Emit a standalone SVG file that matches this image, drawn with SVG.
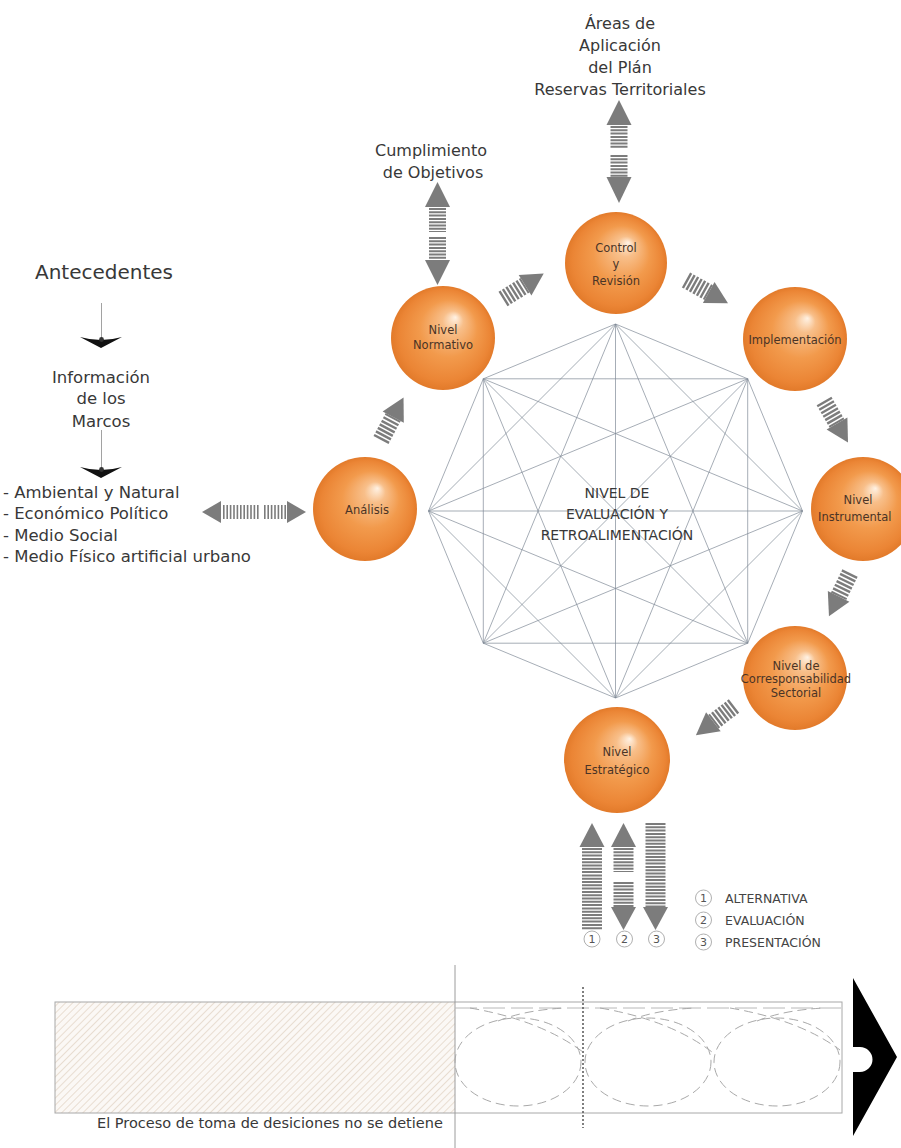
<svg xmlns="http://www.w3.org/2000/svg" xmlns:xlink="http://www.w3.org/1999/xlink" width="901" height="1148" viewBox="0 0 901 1148">
<style>
.t{font-family:"DejaVu Sans","Liberation Sans",sans-serif;fill:#383838}
.lab{font-size:16.5px}
.node{font-size:11.5px;fill:#4a3426;text-anchor:middle}
.oct{stroke:#7f8996;stroke-width:0.7;fill:none}
.ar{fill:#7c7c7c}
.st{stroke:#7c7c7c;fill:none}
.dsh{stroke:#a9a9a9;stroke-width:1;fill:none;stroke-dasharray:9 5}
.num{font-size:11px;fill:#555;text-anchor:middle}
.cn{fill:none;stroke:#9a9a9a;stroke-width:0.8}
.leg{font-size:12.5px;fill:#444}
</style>
<defs>
<radialGradient id="sph" cx="0.5" cy="0.5" r="0.5" fx="0.62" fy="0.3">
<stop offset="0" stop-color="#fff2e4"/>
<stop offset="0.2" stop-color="#f8bf8a"/>
<stop offset="0.55" stop-color="#f29a4c"/>
<stop offset="0.88" stop-color="#eb8535"/>
<stop offset="1" stop-color="#e27a2a"/>
</radialGradient>
<pattern id="hatch" width="5" height="5" patternUnits="userSpaceOnUse" patternTransform="rotate(45)">
<rect width="5" height="5" fill="#fbf8f5"/>
<line x1="0" y1="0" x2="0" y2="5" stroke="#e4d6c8" stroke-width="1.6"/>
</pattern>
<g id="sa">
<line x1="0" y1="0" x2="26" y2="0" class="st" stroke-width="17" stroke-dasharray="2.4 1.6"/>
<polygon points="26,-12 48,0 26,12" class="ar"/>
</g>
</defs>
<rect width="901" height="1148" fill="#ffffff"/>

<g id="octagon" class="oct">
<path d="M615.5,324L747.7,378.8M615.5,324L802.5,511M615.5,324L747.7,643.2M615.5,324L615.5,698M615.5,324L483.3,643.2M615.5,324L428.5,511M615.5,324L483.3,378.8
M747.7,378.8L802.5,511M747.7,378.8L747.7,643.2M747.7,378.8L615.5,698M747.7,378.8L483.3,643.2M747.7,378.8L428.5,511M747.7,378.8L483.3,378.8
M802.5,511L747.7,643.2M802.5,511L615.5,698M802.5,511L483.3,643.2M802.5,511L428.5,511M802.5,511L483.3,378.8
M747.7,643.2L615.5,698M747.7,643.2L483.3,643.2M747.7,643.2L428.5,511M747.7,643.2L483.3,378.8
M615.5,698L483.3,643.2M615.5,698L428.5,511M615.5,698L483.3,378.8
M483.3,643.2L428.5,511M483.3,643.2L483.3,378.8
M428.5,511L483.3,378.8"/>
</g>
<g id="center-label" class="t" font-size="14" text-anchor="middle">
<text x="617" y="498">NIVEL DE</text>
<text x="617" y="519">EVALUACIÓN Y</text>
<text x="617" y="540">RETROALIMENTACIÓN</text>
</g>

<g id="connectors">
<!-- top double arrow (Control) -->
<polygon class="ar" points="619,100 606.5,125 631.5,125"/>
<line class="st" x1="619" y1="126" x2="619" y2="148" stroke-width="17" stroke-dasharray="2 1.3"/>
<line class="st" x1="619" y1="155" x2="619" y2="177" stroke-width="17" stroke-dasharray="2 1.3"/>
<polygon class="ar" points="606.5,177 631.5,177 619,203"/>
<!-- Cumplimiento double arrow -->
<polygon class="ar" points="437.5,182 425,207 450,207"/>
<line class="st" x1="437.5" y1="208" x2="437.5" y2="232" stroke-width="17" stroke-dasharray="2 1.3"/>
<line class="st" x1="437.5" y1="237" x2="437.5" y2="260" stroke-width="17" stroke-dasharray="2 1.3"/>
<polygon class="ar" points="425,260 450,260 437.5,285"/>
<!-- left horizontal double arrow -->
<polygon class="ar" points="202,512 221,501 221,523"/>
<line class="st" x1="223" y1="512" x2="259" y2="512" stroke-width="14" stroke-dasharray="1.6 1.8"/>
<line class="st" x1="264" y1="512" x2="287" y2="512" stroke-width="14" stroke-dasharray="1.6 1.8"/>
<polygon class="ar" points="287,501 306,512 287,523"/>
<!-- cycle arrows -->
<use xlink:href="#sa" transform="translate(381,440) rotate(-62)"/>
<use xlink:href="#sa" transform="translate(503,299) rotate(-32)"/>
<use xlink:href="#sa" transform="translate(686,280) rotate(29)"/>
<use xlink:href="#sa" transform="translate(824,401) rotate(60)"/>
<use xlink:href="#sa" transform="translate(850,573) rotate(116)"/>
<use xlink:href="#sa" transform="translate(734,706) rotate(142.5)"/>
<!-- bottom arrows -->
<polygon class="ar" points="592,823 579.5,847 604.5,847"/>
<line class="st" x1="592" y1="848" x2="592" y2="930" stroke-width="20" stroke-dasharray="2 1.3"/>
<polygon class="ar" points="623.5,823 611,847 636,847"/>
<line class="st" x1="623.5" y1="848" x2="623.5" y2="872" stroke-width="20" stroke-dasharray="2 1.3"/>
<line class="st" x1="623.5" y1="882" x2="623.5" y2="907" stroke-width="20" stroke-dasharray="2 1.3"/>
<polygon class="ar" points="611,907 636,907 623.5,930"/>
<line class="st" x1="655.5" y1="823" x2="655.5" y2="907" stroke-width="20" stroke-dasharray="2 1.3"/>
<polygon class="ar" points="643,907 668,907 655.5,930"/>
<!-- left flow lines -->
<line x1="101.5" y1="303" x2="101.5" y2="340" stroke="#8a8a8a" stroke-width="0.8"/>
<path d="M80,337 Q101,343 122,337 L101,348 Z" fill="#111"/>
<circle cx="101.5" cy="339.5" r="2.4" fill="#333"/>
<line x1="101.5" y1="430" x2="101.5" y2="469" stroke="#8a8a8a" stroke-width="0.8"/>
<path d="M80,467 Q101,473 122,467 L101,478 Z" fill="#111"/>
<circle cx="101.5" cy="469.5" r="2.4" fill="#333"/>
</g>

<g id="label-areas" class="t lab" font-size="16" text-anchor="middle">
<text x="620" y="29" font-size="16">Áreas de</text>
<text x="620" y="51" font-size="16">Aplicación</text>
<text x="620" y="73" font-size="16">del Plán</text>
<text x="620" y="95" font-size="16">Reservas Territoriales</text>
</g>
<g id="label-cumplimiento" class="t" font-size="16" text-anchor="middle">
<text x="431" y="156">Cumplimiento</text>
<text x="433" y="178">de Objetivos</text>
</g>
<g id="label-antecedentes" class="t">
<text x="104" y="279" font-size="20" text-anchor="middle">Antecedentes</text>
</g>
<g id="label-informacion" class="t lab" text-anchor="middle">
<text x="101" y="383">Información</text>
<text x="101" y="404">de los</text>
<text x="101" y="427">Marcos</text>
</g>
<g id="label-marcos" class="t lab">
<text x="3" y="498">- Ambiental y Natural</text>
<text x="3" y="519">- Económico Político</text>
<text x="3" y="541">- Medio Social</text>
<text x="3" y="562">- Medio Físico artificial urbano</text>
</g>

<g id="node-control">
<circle cx="616" cy="263" r="51" fill="url(#sph)"/>
<text class="t node" x="616" y="252">Control</text>
<text class="t node" x="616" y="268">y</text>
<text class="t node" x="616" y="285">Revisión</text>
</g>
<g id="node-normativo">
<circle cx="443" cy="338" r="52" fill="url(#sph)"/>
<text class="t node" x="443" y="334">Nivel</text>
<text class="t node" x="443" y="349">Normativo</text>
</g>
<g id="node-implementacion">
<circle cx="795" cy="339" r="52" fill="url(#sph)"/>
<text class="t node" x="795" y="343.5" font-size="12">Implementación</text>
</g>
<g id="node-analisis">
<circle cx="365" cy="509" r="52" fill="url(#sph)"/>
<text class="t node" x="367" y="514">Análisis</text>
</g>
<g id="node-instrumental">
<circle cx="863" cy="509" r="52" fill="url(#sph)"/>
<text class="t node" x="858" y="504">Nivel</text>
<text class="t node" x="818" y="521" text-anchor="start" style="text-anchor:start">Instrumental</text>
</g>
<g id="node-corresponsabilidad">
<circle cx="795" cy="678" r="52" fill="url(#sph)"/>
<text class="t node" x="796" y="670" font-size="10">Nivel de</text>
<text class="t node" x="796" y="683" font-size="10">Corresponsabilidad</text>
<text class="t node" x="796" y="697" font-size="10">Sectorial</text>
</g>
<g id="node-estrategico">
<circle cx="617" cy="760" r="53" fill="url(#sph)"/>
<text class="t node" x="617" y="756">Nivel</text>
<text class="t node" x="617" y="774">Estratégico</text>
</g>

<g id="numbers">
<circle class="cn" cx="592" cy="939" r="8"/><text class="t num" x="592" y="943">1</text>
<circle class="cn" cx="624.5" cy="939" r="8"/><text class="t num" x="624.5" y="943">2</text>
<circle class="cn" cx="656.5" cy="939" r="8"/><text class="t num" x="656.5" y="943">3</text>
</g>
<g id="legend">
<circle class="cn" cx="703.5" cy="898" r="8"/><text class="t num" x="703.5" y="902">1</text>
<text class="t leg" x="725" y="903">ALTERNATIVA</text>
<circle class="cn" cx="703.5" cy="920" r="8"/><text class="t num" x="703.5" y="924">2</text>
<text class="t leg" x="725" y="925">EVALUACIÓN</text>
<circle class="cn" cx="703.5" cy="942" r="8"/><text class="t num" x="703.5" y="946">3</text>
<text class="t leg" x="725" y="947">PRESENTACIÓN</text>
</g>

<g id="process-band">
<rect x="55" y="1002" width="400" height="111" fill="url(#hatch)"/>
<rect x="55" y="1002" width="787" height="111" fill="none" stroke="#a8a8a8" stroke-width="1"/>
<line x1="455" y1="965" x2="455" y2="1148" stroke="#9c9c9c" stroke-width="1"/>
<line x1="455" y1="1008" x2="842" y2="1008" stroke="#b8b8b8" stroke-width="1" stroke-dasharray="22 6"/>
<ellipse class="dsh" cx="518" cy="1062" rx="63" ry="44"/>
<ellipse class="dsh" cx="648" cy="1062" rx="63" ry="44"/>
<ellipse class="dsh" cx="777" cy="1062" rx="63" ry="44"/>
<path class="dsh" d="M470,1008 Q540,1020 583,1052"/>
<path class="dsh" d="M498,1021 Q525,1010 565,1008"/>
<path class="dsh" d="M600,1008 Q670,1020 712,1052"/>
<path class="dsh" d="M628,1021 Q655,1010 695,1008"/>
<path class="dsh" d="M730,1008 Q800,1020 840,1050"/>
<path class="dsh" d="M757,1021 Q784,1010 824,1008"/>
<line x1="583" y1="987" x2="583" y2="1128" stroke="#555" stroke-width="1.5" stroke-dasharray="2 2"/>
<path d="M853,978 L897,1057 L853,1136 L853,1072 L860,1072 A12.5,12.5 0 0 0 860,1047 L853,1047 Z" fill="#000"/>
<text class="t" x="97" y="1128" font-size="14.5">El Proceso de toma de desiciones no se detiene</text>
</g>
</svg>
